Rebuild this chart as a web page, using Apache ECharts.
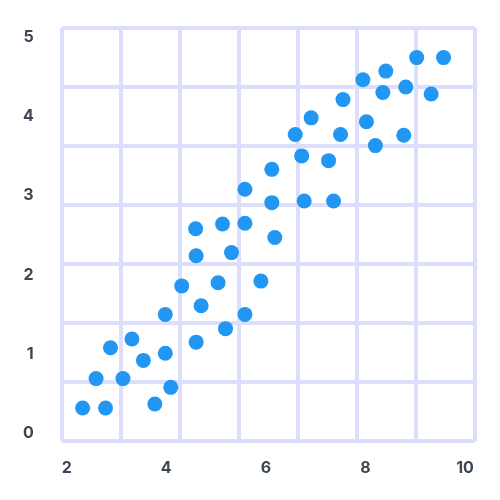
<!DOCTYPE html>
<html><head><meta charset="utf-8">
<script src="https://cdn.jsdelivr.net/npm/echarts@6/dist/echarts.min.js"></script>
<style>html,body{margin:0;padding:0;background:#fff}#c{width:500px;height:500px}</style>
</head><body><div id="c"></div>
<script>
const xValues = [2.32,2.78,2.59,3.13,2.88,3.31,3.54,3.98,3.77,4.09,3.98,4.60,4.31,4.70,5.04,5.19,5.58,4.60,5.31,5.90,4.59,5.13,5.58,5.58,6.12,6.12,6.18,6.77,7.36,6.72,7.26,6.59,6.91,7.50,7.55,8.02,8.20,8.77,7.95,8.41,8.35,8.81,9.32,9.03,9.57];
const yValues = [0.32,0.32,0.69,0.69,1.08,1.19,0.92,1.01,0.37,0.58,1.50,1.15,1.86,1.61,1.90,1.32,1.50,2.24,2.28,1.92,2.58,2.64,2.65,3.08,3.33,2.91,2.47,2.93,2.93,3.50,3.44,3.77,3.98,3.77,4.21,3.93,3.63,3.76,4.46,4.57,4.30,4.37,4.28,4.74,4.74];
const xTicks = [2,4,6,8,10];
const yTicks = [0,1,2,3,4,5];
const gridCells = 7;

const points = xValues.map((x,i)=>[x,yValues[i]]);
const labelStyle = {color:'#3d4854', fontSize:16, fontWeight:'bold', fontFamily:'Inter, Roboto, sans-serif'};
const chart = echarts.init(document.getElementById('c'));
chart.setOption({
  animation:false,
  grid:[
    {left:62, top:28, width:413, height:413, show:false},
    {left:66.7, top:37, width:398.3, height:396.3, show:false}
  ],
  xAxis:[
    {gridIndex:0, type:'value', min:0, max:gridCells, interval:1, axisLabel:{show:false}, axisTick:{show:false}, axisLine:{show:false},
     splitLine:{show:true, lineStyle:{color:'#dcdffb', width:4}}},
    {gridIndex:1, type:'value', min:xTicks[0], max:xTicks[xTicks.length-1], interval:2, splitLine:{show:false}, axisTick:{show:false}, axisLine:{show:false},
     axisLabel:Object.assign({margin:27}, labelStyle)}
  ],
  yAxis:[
    {gridIndex:0, type:'value', min:0, max:gridCells, interval:1, axisLabel:{show:false}, axisTick:{show:false}, axisLine:{show:false},
     splitLine:{show:true, lineStyle:{color:'#dcdffb', width:4}}},
    {gridIndex:1, type:'value', min:yTicks[0], max:yTicks[yTicks.length-1], interval:1, splitLine:{show:false}, axisTick:{show:false}, axisLine:{show:false},
     axisLabel:Object.assign({margin:33}, labelStyle)}
  ],
  series:[{
    type:'scatter', xAxisIndex:1, yAxisIndex:1, data:points, symbolSize:15,
    itemStyle:{color:'#2196f3', opacity:1}
  }]
});
</script></body></html>
